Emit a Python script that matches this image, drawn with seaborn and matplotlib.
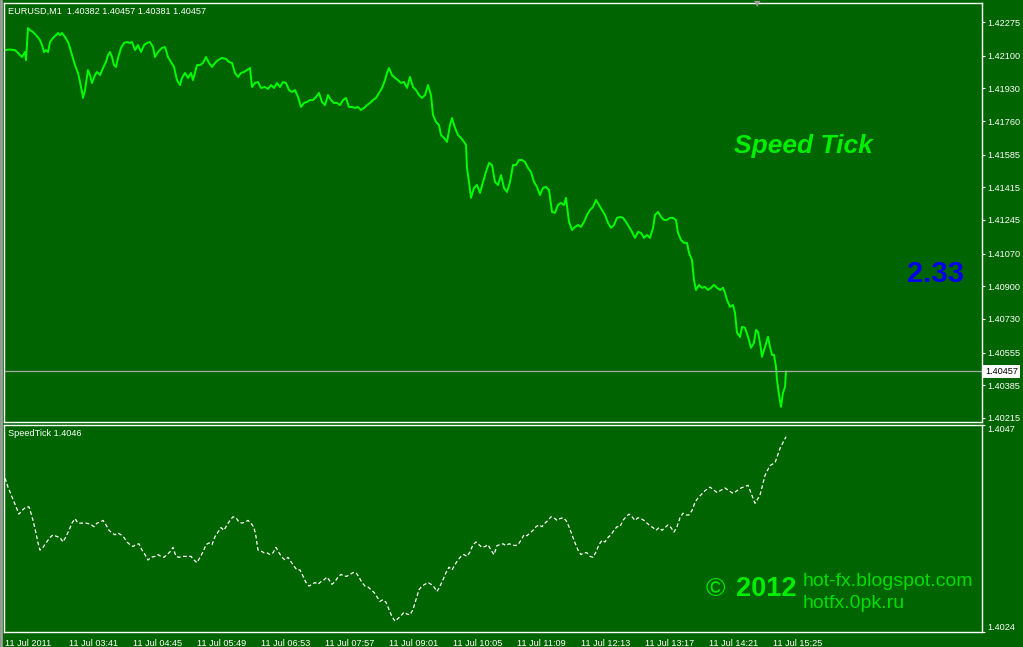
import matplotlib
matplotlib.use('Agg')
import matplotlib.pyplot as plt
import pandas as pd
import seaborn as sns

# ---- data (bar = minutes since 02:37) ----
price_bar = [0, 5, 10, 13, 15, 17, 20, 21, 23, 25, 28, 31, 35, 37, 39, 41, 43, 45, 48, 51,
             53, 55, 57, 60, 63, 65, 67, 70, 73, 75, 77, 78, 80, 83, 85, 87, 90, 92, 95, 98,
             101, 103, 105, 107, 109, 111, 113, 116, 119, 122, 125, 127, 130, 133, 136, 139, 142, 145, 148, 150,
             153, 157, 160, 163, 166, 169, 172, 175, 177, 180, 183, 186, 188, 192, 195, 198, 201, 204, 207, 210,
             213, 217, 221, 224, 227, 230, 233, 236, 239, 242, 245, 247, 250, 253, 256, 260, 263, 266, 269, 272,
             275, 278, 281, 284, 287, 290, 293, 296, 299, 302, 305, 308, 311, 314, 317, 320, 323, 326, 329, 332,
             335, 338, 341, 344, 347, 350, 353, 356, 359, 362, 365, 368, 371, 374, 377, 380, 382, 384, 387, 390,
             393, 396, 399, 402, 405, 408, 411, 414, 417, 420, 423, 426, 428, 431, 434, 436, 439, 442, 445, 447,
             450, 453, 456, 459, 461, 462, 464, 466, 469, 472, 475, 478, 481, 484, 487, 490, 493, 496, 499, 502,
             505, 508, 511, 514, 517, 520, 523, 526, 529, 532, 535, 538, 541, 544, 547, 550, 553, 556, 559, 561,
             564, 567, 570, 573, 576, 579, 582, 585, 588, 591, 594, 597, 600, 603, 606, 609, 612, 615, 618, 621,
             624, 627, 630, 633, 636, 639, 642, 645, 648, 650, 653, 656, 659, 662, 665, 668, 671, 673, 676, 679,
             682, 684, 687, 689, 691, 694, 697, 700, 703, 706, 709, 712, 715, 718, 720, 722, 725, 728, 730, 732,
             735, 737, 740, 743, 746, 749, 751, 753, 755, 757, 760, 763, 765, 767, 769, 771, 772, 774, 776, 778,
             780, 781]
price_close = [1.42129, 1.42132, 1.42129, 1.42114, 1.42103, 1.42093, 1.42119, 1.42077, 1.42244, 1.42233,
               1.42223, 1.42207, 1.42181, 1.42155, 1.42119, 1.42129, 1.42119, 1.42171, 1.42192, 1.42207,
               1.42218, 1.42207, 1.42218, 1.42197, 1.42171, 1.42140, 1.42103, 1.42051, 1.42010, 1.41963,
               1.41911, 1.41880, 1.41921, 1.42025, 1.41999, 1.41958, 1.41999, 1.42015, 1.41999, 1.42036,
               1.42067, 1.42103, 1.42119, 1.42093, 1.42051, 1.42041, 1.42088, 1.42140, 1.42166, 1.42171,
               1.42166, 1.42171, 1.42129, 1.42155, 1.42119, 1.42155, 1.42166, 1.42171, 1.42145, 1.42093,
               1.42119, 1.42140, 1.42145, 1.42093, 1.42067, 1.42041, 1.41973, 1.41947, 1.41984, 1.42010,
               1.41984, 1.42010, 1.41973, 1.42051, 1.42051, 1.42062, 1.42093, 1.42062, 1.42041, 1.42062,
               1.42077, 1.42088, 1.42083, 1.42067, 1.42062, 1.42010, 1.41989, 1.42010, 1.42015, 1.42025,
               1.42036, 1.41937, 1.41958, 1.41963, 1.41932, 1.41937, 1.41927, 1.41947, 1.41932, 1.41958,
               1.41937, 1.41963, 1.41958, 1.41921, 1.41911, 1.41921, 1.41885, 1.41833, 1.41854, 1.41859,
               1.41869, 1.41869, 1.41885, 1.41906, 1.41859, 1.41843, 1.41895, 1.41869, 1.41854, 1.41854,
               1.41843, 1.41869, 1.41880, 1.41833, 1.41833, 1.41828, 1.41833, 1.41817, 1.41828, 1.41843,
               1.41854, 1.41869, 1.41880, 1.41906, 1.41932, 1.41973, 1.42010, 1.42036, 1.41999, 1.41984,
               1.41973, 1.41958, 1.41963, 1.41932, 1.41989, 1.41937, 1.41921, 1.41895, 1.41880, 1.41895,
               1.41947, 1.41895, 1.41791, 1.41755, 1.41739, 1.41687, 1.41672, 1.41651, 1.41739, 1.41775,
               1.41724, 1.41687, 1.41672, 1.41651, 1.41635, 1.41516, 1.41443, 1.41360, 1.41412, 1.41427,
               1.41386, 1.41443, 1.41495, 1.41542, 1.41531, 1.41443, 1.41427, 1.41479, 1.41412, 1.41391,
               1.41443, 1.41531, 1.41531, 1.41557, 1.41557, 1.41547, 1.41516, 1.41495, 1.41443, 1.41417,
               1.41375, 1.41412, 1.41417, 1.41401, 1.41287, 1.41282, 1.41323, 1.41334, 1.41323, 1.41360,
               1.41235, 1.41193, 1.41209, 1.41219, 1.41209, 1.41235, 1.41271, 1.41297, 1.41313, 1.41349,
               1.41323, 1.41297, 1.41271, 1.41230, 1.41204, 1.41219, 1.41256, 1.41261, 1.41256, 1.41235,
               1.41209, 1.41183, 1.41152, 1.41183, 1.41178, 1.41152, 1.41167, 1.41152, 1.41204, 1.41271,
               1.41287, 1.41261, 1.41245, 1.41245, 1.41256, 1.41256, 1.41245, 1.41178, 1.41141, 1.41126,
               1.41126, 1.41074, 1.41037, 1.40933, 1.40881, 1.40907, 1.40892, 1.40897, 1.40881, 1.40892,
               1.40907, 1.40892, 1.40881, 1.40892, 1.40866, 1.40829, 1.40793, 1.40803, 1.40762, 1.40658,
               1.40637, 1.40689, 1.40684, 1.40637, 1.40580, 1.40606, 1.40673, 1.40663, 1.40606, 1.40533,
               1.40585, 1.40637, 1.40585, 1.40543, 1.40543, 1.40481, 1.40413, 1.40335, 1.40273, 1.40346,
               1.40377, 1.40457]

speed_bar = [0, 3, 7, 11, 14, 17, 21, 24, 26, 28, 31, 33, 35, 38, 41, 45, 48, 52, 55, 58,
             61, 64, 67, 70, 73, 77, 81, 85, 89, 92, 95, 98, 101, 104, 107, 110, 113, 116, 119, 122,
             125, 128, 131, 134, 137, 140, 143, 146, 150, 153, 156, 159, 162, 165, 168, 171, 174, 177, 180, 183,
             186, 189, 192, 195, 198, 201, 204, 207, 210, 213, 216, 219, 222, 225, 228, 231, 234, 237, 240, 243,
             246, 249, 251, 253, 256, 259, 262, 265, 268, 271, 274, 277, 280, 283, 286, 289, 292, 295, 298, 301,
             304, 307, 310, 313, 316, 319, 322, 324, 327, 330, 333, 336, 339, 342, 345, 348, 351, 354, 357, 360,
             363, 366, 369, 372, 375, 378, 381, 384, 387, 390, 393, 396, 399, 402, 405, 408, 411, 414, 417, 420,
             423, 426, 429, 432, 435, 438, 441, 444, 447, 450, 453, 456, 459, 462, 465, 468, 471, 474, 477, 480,
             483, 486, 489, 492, 495, 498, 501, 504, 507, 510, 513, 516, 519, 522, 525, 528, 531, 534, 537, 540,
             543, 546, 549, 552, 555, 558, 561, 564, 567, 570, 573, 576, 579, 582, 585, 588, 591, 594, 597, 600,
             603, 606, 609, 612, 615, 618, 621, 624, 627, 630, 633, 636, 639, 642, 645, 648, 651, 654, 657, 660,
             663, 666, 669, 672, 675, 678, 681, 684, 687, 690, 693, 700, 705, 712, 720, 728, 736, 743, 750, 755,
             760, 765, 770, 775, 781]
speed_val = [1.40411, 1.40401, 1.40390, 1.40379, 1.40371, 1.40375, 1.40379, 1.40379, 1.40372, 1.40364,
             1.40350, 1.40339, 1.40331, 1.40334, 1.40339, 1.40345, 1.40348, 1.40346, 1.40345, 1.40340,
             1.40346, 1.40353, 1.40361, 1.40366, 1.40361, 1.40361, 1.40361, 1.40360, 1.40357, 1.40361,
             1.40362, 1.40364, 1.40359, 1.40353, 1.40350, 1.40348, 1.40350, 1.40348, 1.40345, 1.40340,
             1.40337, 1.40335, 1.40337, 1.40338, 1.40331, 1.40326, 1.40320, 1.40323, 1.40324, 1.40326,
             1.40324, 1.40323, 1.40326, 1.40329, 1.40334, 1.40324, 1.40323, 1.40324, 1.40324, 1.40324,
             1.40324, 1.40320, 1.40317, 1.40323, 1.40329, 1.40337, 1.40339, 1.40337, 1.40346, 1.40351,
             1.40356, 1.40353, 1.40359, 1.40364, 1.40368, 1.40367, 1.40362, 1.40361, 1.40362, 1.40364,
             1.40361, 1.40356, 1.40346, 1.40331, 1.40330, 1.40328, 1.40328, 1.40326, 1.40328, 1.40334,
             1.40328, 1.40323, 1.40320, 1.40323, 1.40318, 1.40313, 1.40309, 1.40309, 1.40302, 1.40295,
             1.40291, 1.40293, 1.40295, 1.40293, 1.40296, 1.40298, 1.40301, 1.40298, 1.40293, 1.40296,
             1.40301, 1.40304, 1.40302, 1.40302, 1.40304, 1.40306, 1.40306, 1.40301, 1.40295, 1.40291,
             1.40290, 1.40287, 1.40284, 1.40279, 1.40274, 1.40276, 1.40273, 1.40265, 1.40257, 1.40252,
             1.40255, 1.40258, 1.40262, 1.40260, 1.40259, 1.40265, 1.40276, 1.40287, 1.40291, 1.40293,
             1.40295, 1.40293, 1.40290, 1.40285, 1.40291, 1.40298, 1.40306, 1.40312, 1.40309, 1.40315,
             1.40320, 1.40324, 1.40326, 1.40324, 1.40329, 1.40337, 1.40340, 1.40337, 1.40334, 1.40335,
             1.40337, 1.40331, 1.40326, 1.40336, 1.40337, 1.40338, 1.40336, 1.40338, 1.40337, 1.40336,
             1.40337, 1.40342, 1.40348, 1.40347, 1.40350, 1.40353, 1.40357, 1.40359, 1.40357, 1.40361,
             1.40364, 1.40368, 1.40367, 1.40364, 1.40366, 1.40367, 1.40364, 1.40357, 1.40348, 1.40339,
             1.40331, 1.40326, 1.40328, 1.40328, 1.40324, 1.40323, 1.40329, 1.40337, 1.40342, 1.40340,
             1.40345, 1.40348, 1.40353, 1.40357, 1.40357, 1.40364, 1.40368, 1.40371, 1.40368, 1.40364,
             1.40367, 1.40366, 1.40364, 1.40361, 1.40358, 1.40356, 1.40353, 1.40356, 1.40353, 1.40356,
             1.40359, 1.40356, 1.40351, 1.40357, 1.40367, 1.40372, 1.40370, 1.40370, 1.40375, 1.40384,
             1.40389, 1.40397, 1.40401, 1.40395, 1.40400, 1.40394, 1.40400, 1.40403, 1.40383, 1.40392,
             1.40414, 1.40425, 1.40428, 1.40444, 1.40457]

time_ticks = [0, 64, 128, 192, 256, 320, 384, 448, 512, 576, 640, 704, 768]
time_labels = ['11 Jul 2011', '11 Jul 03:41', '11 Jul 04:45', '11 Jul 05:49', '11 Jul 06:53',
               '11 Jul 07:57', '11 Jul 09:01', '11 Jul 10:05', '11 Jul 11:09', '11 Jul 12:13',
               '11 Jul 13:17', '11 Jul 14:21', '11 Jul 15:25']
price_ticks = [1.42275, 1.42100, 1.41930, 1.41760, 1.41585, 1.41415, 1.41245,
               1.41070, 1.40900, 1.40730, 1.40555, 1.40385, 1.40215]
speed_ticks = [1.4047, 1.4024]
last_price = 1.40457
ohlc = [1.40382, 1.40457, 1.40381, 1.40457]
speed_last = 1.4046
speed_ratio = 2.33

BG = '#006400'
W, H = 1023, 647
SMALL = 6.6

sns.set_theme(style='dark', rc={'axes.facecolor': BG, 'figure.facecolor': BG,
                                'axes.edgecolor': 'white', 'axes.grid': False})
plt.rcParams['font.family'] = ['Liberation Sans', 'DejaVu Sans']

df_price = pd.DataFrame({'bar': price_bar, 'close': price_close})
df_speed = pd.DataFrame({'bar': speed_bar, 'speed': speed_val})

fig = plt.figure(figsize=(W / 100, H / 100), dpi=100)
ax1 = fig.add_axes([4 / W, 1 - 422 / H, 978 / W, 419 / H])
ax2 = fig.add_axes([4 / W, 1 - 632 / H, 978 / W, 207 / H])

# main price window
sns.lineplot(data=df_price, x='bar', y='close', ax=ax1, color='#00ff00', linewidth=1.4)
ax1.axhline(last_price, color='#a8a8a8', linewidth=0.9)
ax1.set_xlim(-1, 977)
ax1.set_ylim(1.40194, 1.42374)
ax1.set_xticks([])
ax1.yaxis.tick_right()
ax1.set_yticks(price_ticks)
ax1.set_yticklabels(['%.5f' % t for t in price_ticks])
ax1.tick_params(axis='y', colors='white', labelsize=SMALL, length=2, width=0.8, pad=1.5, direction='out')
ax1.text(1.003, last_price, '%.5f' % last_price, transform=ax1.get_yaxis_transform(),
         ha='left', va='center', fontsize=SMALL, color='black',
         bbox=dict(facecolor='white', edgecolor='none', pad=1.2))

# speed tick window
sns.lineplot(data=df_speed, x='bar', y='speed', ax=ax2, color='white', linewidth=0.9,
             linestyle=(0, (3, 2)))
ax2.set_xlim(-1, 977)
ax2.set_ylim(speed_ticks[1], speed_ticks[0])
ax2.yaxis.tick_right()
ax2.set_yticks(speed_ticks)
ax2.set_yticklabels(['%.4f' % t for t in speed_ticks])
ax2.tick_params(axis='y', colors='white', labelsize=SMALL, length=2, width=0.8, pad=1.5, direction='out')
for lab, va in zip(ax2.get_yticklabels(), ['top', 'bottom']):
    lab.set_va(va)
ax2.set_xticks(time_ticks)
ax2.set_xticklabels(time_labels)
ax2.tick_params(axis='x', colors='white', labelsize=SMALL, length=4, width=0.8, pad=1, direction='out')
for lab in ax2.get_xticklabels():
    lab.set_ha('left')

for ax in (ax1, ax2):
    ax.set_xlabel('')
    ax.set_ylabel('')
    for s in ax.spines.values():
        s.set_color('white')
        s.set_linewidth(1)

# labels / overlays
fig.text(8 / W, 1 - 11 / H, 'EURUSD,M1  ' + ' '.join('%.5f' % v for v in ohlc),
         color='white', fontsize=SMALL, va='center')
fig.text(8 / W, 1 - 434 / H, 'SpeedTick %.4f' % speed_last, color='white', fontsize=SMALL, va='center')
fig.text(734 / W, 1 - 146 / H, 'Speed Tick', color='#00ee00', fontsize=19,
         fontweight='bold', fontstyle='italic', va='center')
fig.text(907 / W, 1 - 274 / H, '%.2f' % speed_ratio, color='#0000ee', fontsize=21,
         fontweight='bold', va='center')
fig.text(706 / W, 1 - 589 / H, '©', color='#00ee00', fontsize=19, va='center')
fig.text(736 / W, 1 - 589 / H, '2012', color='#00ee00', fontsize=19.5, fontweight='bold', va='center')
fig.text(803 / W, 1 - 581 / H, 'hot-fx.blogspot.com', color='#00dd00', fontsize=14, va='center')
fig.text(803 / W, 1 - 603 / H, 'hotfx.0pk.ru', color='#00dd00', fontsize=14, va='center')
fig.text(757 / W, 1 - 4 / H, '▼', color='#a0a0a0', fontsize=6, ha='center', va='center',
         family=['DejaVu Sans'])
fig.add_artist(plt.Line2D([1 / W, 1 / W], [0, 1], color='#a0a0a0', linewidth=2))

fig.savefig('out.png', dpi=100, facecolor=BG)
